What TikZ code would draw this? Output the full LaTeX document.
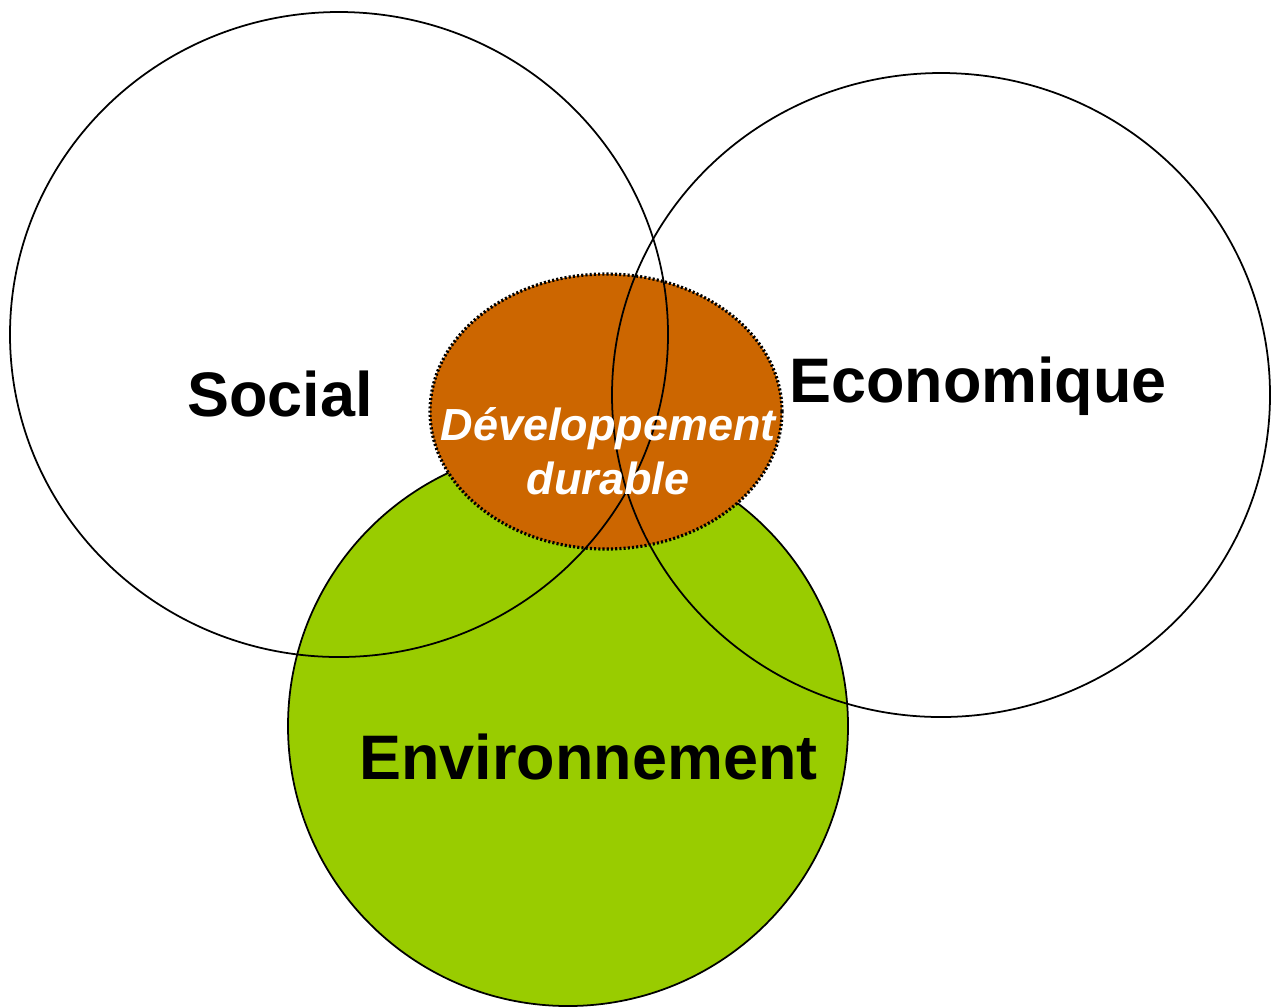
\documentclass[tikz,border=0pt]{standalone}
\usepackage{fontspec}
\setmainfont{Liberation Sans}
\definecolor{envgreen}{HTML}{99CC00}
\definecolor{ddorange}{HTML}{CC6600}

\begin{document}
\begin{tikzpicture}[scale=0.1]
\tikzstyle{every node}+=[inner sep=0pt]
\tikzstyle{pillar}=[font=\fontsize{17.9}{20}\selectfont\bfseries, anchor=base]
\tikzstyle{centre}=[font=\fontsize{12.8}{15.4}\selectfont\bfseries\itshape, text=white, align=center]
\useasboundingbox (0,0) rectangle (127.3,-100.7);
\draw [black, line width=0.5pt, fill=envgreen] (56.8,-72.6) circle (28);
\draw [black, line width=0.9pt, dash pattern=on 0.6pt off 0.6pt, fill=ddorange] (60.6,-41.15) ellipse (17.6 and 13.75);
\draw [black, line width=0.5pt] (33.9,-33.45) ellipse (32.9 and 32.25);
\draw [black, line width=0.5pt] (94.1,-39.5) ellipse (32.9 and 32.2);
\node [pillar] (social) at (28.0,-41.6) {Social};
\node [pillar] (eco) at (97.8,-40.2) {Economique};
\node [pillar] (env) at (58.85,-77.9) {Environnement};
\node [centre] (dd) at (60.8,-45.1) {Développement\\durable};
\end{tikzpicture}
\end{document}
